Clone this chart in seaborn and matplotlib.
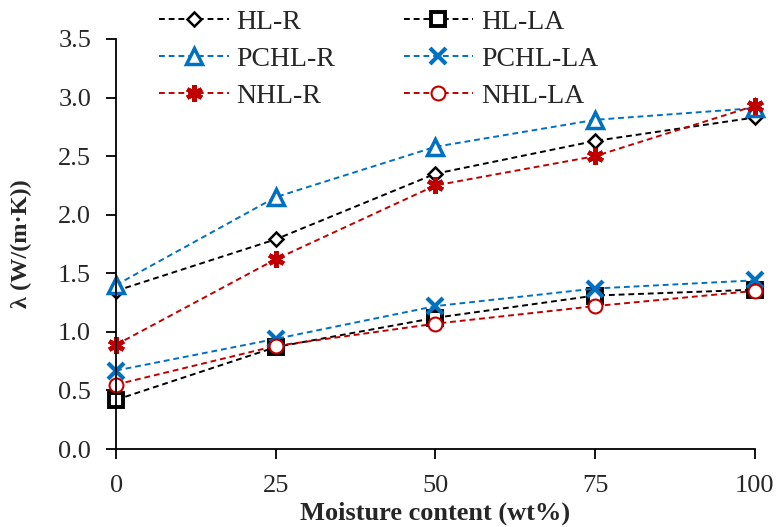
import matplotlib
matplotlib.use("Agg")
import matplotlib.pyplot as plt
import numpy as np
import pandas as pd
import seaborn as sns

moisture = [0, 25, 50, 75, 100]
hl_r = [1.35, 1.79, 2.35, 2.63, 2.83]
hl_la = [0.42, 0.87, 1.12, 1.31, 1.36]
pchl_r = [1.40, 2.15, 2.58, 2.81, 2.91]
pchl_la = [0.67, 0.94, 1.22, 1.37, 1.44]
nhl_r = [0.89, 1.62, 2.25, 2.50, 2.93]
nhl_la = [0.55, 0.88, 1.07, 1.22, 1.35]

BLACK = "#000000"
BLUE = "#0070C0"
RED = "#C00000"


def plot_lambda():
    sns.set_style("ticks")
    plt.rcParams["font.family"] = ["Liberation Serif", "DejaVu Serif"]

    series = [
        ("HL-R", hl_r, BLACK, dict(marker="D", markersize=7, markeredgewidth=1.8, markerfacecolor="white")),
        ("PCHL-R", pchl_r, BLUE, dict(marker="^", markersize=11, markeredgewidth=2.5, markerfacecolor="white")),
        ("NHL-R", nhl_r, RED, dict(marker=(6, 2, 0), markersize=12, markeredgewidth=3.2)),
        ("HL-LA", hl_la, BLACK, dict(marker="s", markersize=9.5, markeredgewidth=2.8, markerfacecolor="white")),
        ("PCHL-LA", pchl_la, BLUE, dict(marker="x", markersize=11, markeredgewidth=3.0)),
        ("NHL-LA", nhl_la, RED, dict(marker="o", markersize=10, markeredgewidth=1.5, markerfacecolor="white")),
    ]

    fig = plt.figure(figsize=(7.79, 5.27), dpi=100)
    ax = fig.add_axes([0.149, 0.148, 0.820, 0.778])

    for name, vals, color, mk in series:
        df = pd.DataFrame({"x": moisture, "y": vals})
        sns.lineplot(data=df, x="x", y="y", ax=ax, color=color, label=name,
                     linestyle=(0, (3, 2)), linewidth=1.4,
                     markeredgecolor=color, clip_on=False, **mk)

    ax.set_xlim(0, 100)
    ax.set_ylim(0, 3.5)
    ax.set_xticks(moisture)
    ax.set_yticks(np.arange(0, 3.51, 0.5))
    ax.yaxis.set_major_formatter(matplotlib.ticker.FormatStrFormatter("%.1f"))
    ax.tick_params(labelsize=19, length=7, width=1.3, direction="out", color="black")
    ax.tick_params(axis="x", pad=12)
    ax.tick_params(axis="y", pad=11)
    for sp in ["left", "bottom"]:
        ax.spines[sp].set_linewidth(1.3)
        ax.spines[sp].set_color("black")
    sns.despine(ax=ax)

    ax.set_xlabel("Moisture content (wt%)", fontsize=19, fontweight="bold", labelpad=3)
    ax.set_ylabel("λ (W/(m·K))", fontsize=17.5, fontweight="bold", labelpad=19)

    ax.legend(loc="upper left", bbox_to_anchor=(0.19, 1.003), bbox_transform=fig.transFigure,
              ncol=2, frameon=False, fontsize=20, handlelength=2.5,
              handletextpad=0.29, labelspacing=0.41, columnspacing=2.45,
              borderaxespad=0)

    fig.savefig("out.png", dpi=100)


def main():
    return plot_lambda()


if __name__ == "__main__":
    main()
